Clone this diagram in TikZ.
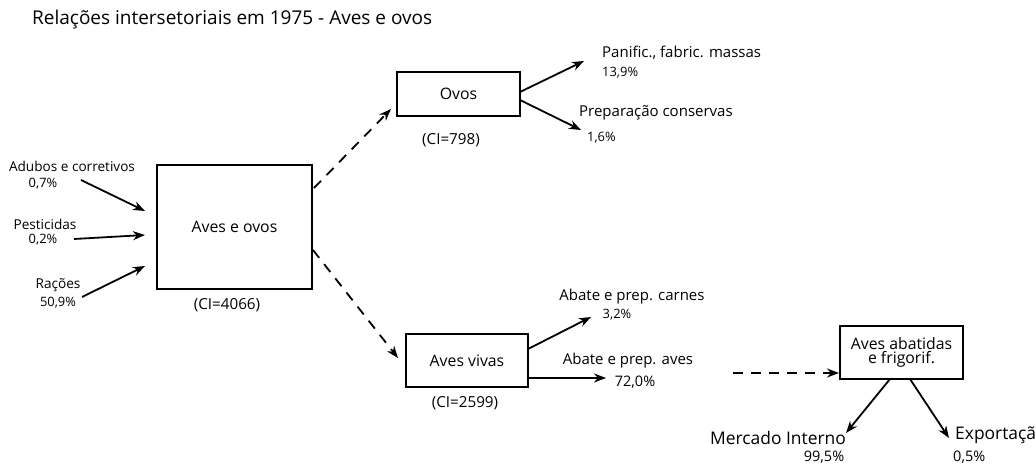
\documentclass[tikz,border=0pt]{standalone}
\usepackage{fontspec}
\setmainfont{Open Sans}
\usetikzlibrary{arrows.meta}
\begin{document}
\begin{tikzpicture}[x=1pt,y=-1pt,
  sector/.style={draw=black,line width=2pt,minimum width=#1,inner sep=0pt,align=center,font=\fontsize{15.8}{17}\selectfont},
  lbl/.style={inner sep=0pt,font=\fontsize{13.6}{15}\selectfont},
  lblr/.style={inner sep=0pt,font=\fontsize{15}{17}\selectfont},
  lblb/.style={inner sep=0pt,font=\fontsize{17.4}{19}\selectfont},
  pct/.style={inner sep=0pt,font=\fontsize{12.9}{14}\selectfont},
  pctb/.style={inner sep=0pt,font=\fontsize{14.5}{16}\selectfont},
  ci/.style={inner sep=0pt,font=\fontsize{15.2}{17}\selectfont},
  flow/.style={line width=1.8pt,-{Stealth[length=12pt,width=9pt]}},
  link/.style={line width=1.8pt,dash pattern=on 10pt off 8pt,-{Stealth[length=12pt,width=9pt]}}]
\useasboundingbox (0,0) rectangle (1036,465);

% title
\node[anchor=west,inner sep=0pt,font=\fontsize{19}{21}\selectfont] (title) at (32,20) {Relações intersetoriais em 1975 - Aves e ovos};

% sector boxes
\node[sector=155pt,minimum height=124pt] (aeo) at (234.5,227) {Aves e ovos};
\node[sector=123pt,minimum height=44pt] (ovos) at (458.5,94) {Ovos};
\node[sector=122pt,minimum height=53pt] (vivas) at (467,360.5) {Aves vivas};
\node[sector=123pt,minimum height=53pt] (abat) at (901.5,352.5) {Aves abatidas\\[-3pt]e frigorif.};

% output coefficients
\node[ci] (ciaeo) at (227,305) {(CI=4066)};
\node[ci] (ciovos) at (451,140) {(CI=798)};
\node[ci] (civivas) at (465,403) {(CI=2599)};

% inputs
\node[lbl] (adubos) at (72,166) {Adubos e corretivos};
\node[pct] (padubos) at (43,184) {0,7\%};
\node[lbl] (pest) at (45,224) {Pesticidas};
\node[pct] (ppest) at (43,240) {0,2\%};
\node[lbl] (racoes) at (58,285) {Rações};
\node[pct] (pracoes) at (58,303) {50,9\%};

\coordinate (a1s) at (81,180);  \coordinate (a1e) at (145,211);
\coordinate (a2s) at (74,239);  \coordinate (a2e) at (145,235);
\coordinate (a3s) at (82,297);  \coordinate (a3e) at (145,266);
\draw[flow] (a1s) -- (a1e);
\draw[flow] (a2s) -- (a2e);
\draw[flow] (a3s) -- (a3e);

% destinations of eggs
\node[lblr,anchor=west] (panif) at (602,53) {Panific., fabric. massas};
\node[pct,anchor=west] (ppanif) at (602,73) {13,9\%};
\node[lblr,anchor=west] (prep) at (579,113) {Preparação conservas};
\node[pct,anchor=west] (pprep) at (587,138) {1,6\%};
\coordinate (o1s) at (520,92);  \coordinate (o1e) at (584,61);
\coordinate (o2s) at (520,100); \coordinate (o2e) at (581,130);
\draw[flow] (o1s) -- (o1e);
\draw[flow] (o2s) -- (o2e);

% destinations of live birds
\node[lblr] (carnes) at (632,297) {Abate e prep. carnes};
\node[pct] (pcarnes) at (617,315) {3,2\%};
\node[lblr] (aves) at (628,361) {Abate e prep. aves};
\node[pctb] (paves) at (635,382) {72,0\%};
\coordinate (v1s) at (528,349); \coordinate (v1e) at (591,317);
\coordinate (v2s) at (528,378); \coordinate (v2e) at (606,378);
\draw[flow] (v1s) -- (v1e);
\draw[flow] (v2s) -- (v2e);

% destinations of slaughtered birds
\node[lblb] (merc) at (778,438) {Mercado Interno};
\node[pctb] (pmerc) at (824,457) {99,5\%};
\node[lblb,anchor=west] (exp) at (955,435) {Exportação};
\node[pctb,anchor=west] (pexp) at (953,457) {0,5\%};
\coordinate (b1s) at (890,379); \coordinate (b1e) at (846,433);
\coordinate (b2s) at (910,379); \coordinate (b2e) at (949,438);
\draw[flow] (b1s) -- (b1e);
\draw[flow] (b2s) -- (b2e);

% links between sectors
\coordinate (d1s) at (314,188); \coordinate (d1e) at (391,109);
\coordinate (d2s) at (313,250); \coordinate (d2e) at (398,358);
\coordinate (d3s) at (733,373);
\draw[link] (d1s) -- (d1e);
\draw[link] (d2s) -- (d2e);
\draw[link] (d3s) -- (d3s -| abat.west);
\end{tikzpicture}
\end{document}
